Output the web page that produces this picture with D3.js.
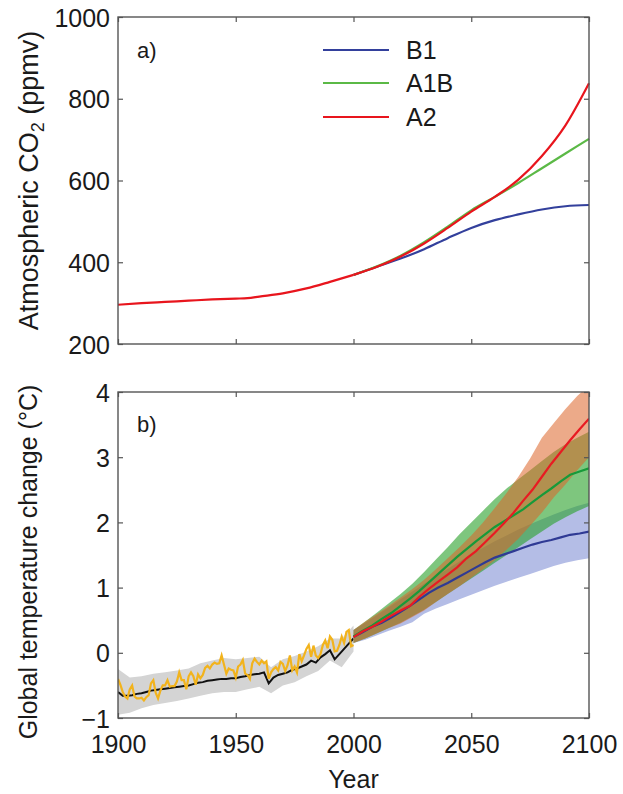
<!DOCTYPE html>
<html>
<head>
<meta charset="utf-8">
<script src="https://cdn.jsdelivr.net/npm/d3@7"></script>
<style>
body { margin: 0; background: #fff; }
svg { font-family: "Liberation Sans", Arial, Helvetica, sans-serif; }
.tick-label { font-size: 25px; fill: #1a1a1a; }
.axis-title { font-size: 25px; fill: #1a1a1a; }
</style>
</head>
<body>
<svg id="chart" width="623" height="794"></svg>
<script>
// ---- panel a: atmospheric CO2 (ppmv) ----
var co2HistYears = [1900, 1910, 1920, 1930, 1940, 1950, 1955, 1960, 1970, 1980, 1990, 2000];
var co2Hist = [296, 300, 303, 306, 309, 311, 312, 316, 324, 336, 352, 369];
var scenYears = [2000, 2010, 2020, 2030, 2040, 2050, 2060, 2070, 2080, 2090, 2100];
var co2B1 = [369, 389, 409, 432, 459, 484, 503, 517, 529, 537, 540];
var co2A1B = [369, 390, 416, 449, 487, 527, 560, 594, 630, 666, 702];
var co2A2 = [369, 389, 414, 446, 484, 524, 560, 602, 660, 735, 838];

var scenNames = ["B1", "A1B", "A2"];

// ---- panel b: temperature change (°C) ----
// observations, annual 1900-2000
var obsTemp = [
  -0.40, -0.49, -0.60, -0.67, -0.70, -0.56, -0.50, -0.67, -0.70, -0.70,
  -0.69, -0.73, -0.68, -0.65, -0.47, -0.42, -0.61, -0.70, -0.58, -0.50,
  -0.50, -0.42, -0.52, -0.51, -0.51, -0.44, -0.30, -0.42, -0.42, -0.56,
  -0.36, -0.30, -0.36, -0.49, -0.33, -0.39, -0.34, -0.23, -0.20, -0.24,
  -0.18, -0.15, -0.17, -0.16, -0.04, -0.18, -0.32, -0.24, -0.26, -0.27,
  -0.38, -0.21, -0.18, -0.11, -0.32, -0.34, -0.40, -0.16, -0.09, -0.14,
  -0.18, -0.12, -0.16, -0.13, -0.40, -0.30, -0.25, -0.22, -0.27, -0.14,
  -0.17, -0.28, -0.19, -0.04, -0.27, -0.21, -0.30, -0.02, -0.13, -0.04,
   0.06,  0.12, -0.06,  0.11, -0.04, -0.08, -0.02,  0.12,  0.19,  0.07,
   0.25,  0.20,  0.02,  0.03,  0.12,  0.25,  0.15,  0.32,  0.35,  0.10,
   0.12
];
// model mean, every 2 years 1900-2000
var histMean = [
  -0.60, -0.66, -0.66, -0.65, -0.63, -0.62, -0.60, -0.58, -0.57, -0.56,
  -0.55, -0.54, -0.53, -0.52, -0.51, -0.50, -0.48, -0.46, -0.45, -0.43,
  -0.42, -0.41, -0.40, -0.40, -0.39, -0.39, -0.37, -0.36, -0.34, -0.33,
  -0.32, -0.30, -0.47, -0.38, -0.34, -0.32, -0.30, -0.26, -0.24, -0.21,
  -0.18, -0.12, -0.15, -0.07, -0.02,  0.04, -0.10, -0.02,  0.06,  0.14,
   0.22
];
// model spread, every 5 years 1900-2000
var histLo = [-0.95, -0.92, -0.85, -0.80, -0.77, -0.74, -0.70, -0.66, -0.62, -0.60, -0.60,
              -0.56, -0.52, -0.62, -0.50, -0.45, -0.36, -0.28, -0.12, -0.22, 0.02];
var histHi = [-0.25, -0.38, -0.36, -0.32, -0.30, -0.27, -0.24, -0.16, -0.12, -0.08, -0.10,
              -0.08, -0.06, -0.22, -0.10, -0.05, 0.02, 0.10, 0.22, 0.22, 0.42];

// projections, mean every 4 years 2000-2100
var projB1 = [0.24, 0.32, 0.40, 0.46, 0.54, 0.63, 0.72, 0.82, 0.92, 1.00, 1.07, 1.15, 1.23,
              1.31, 1.39, 1.46, 1.51, 1.56, 1.61, 1.66, 1.70, 1.73, 1.77, 1.81, 1.83, 1.86];
var projA1B = [0.25, 0.34, 0.42, 0.52, 0.61, 0.72, 0.83, 0.95, 1.08, 1.21, 1.34, 1.47, 1.59,
               1.71, 1.82, 1.93, 2.02, 2.11, 2.20, 2.31, 2.42, 2.52, 2.63, 2.73, 2.78, 2.83];
var projA2 = [0.24, 0.33, 0.40, 0.48, 0.57, 0.65, 0.72, 0.86, 0.98, 1.09, 1.20, 1.31, 1.45,
              1.56, 1.70, 1.84, 1.99, 2.15, 2.33, 2.50, 2.70, 2.90, 3.08, 3.26, 3.43, 3.59];
// projection spread, every 5 years 2000-2100
var bandB1Lo = [0.15, 0.20, 0.27, 0.34, 0.40, 0.47, 0.60, 0.68, 0.75, 0.82, 0.89,
                0.96, 1.03, 1.09, 1.15, 1.21, 1.27, 1.33, 1.38, 1.42, 1.45];
var bandB1Hi = [0.35, 0.46, 0.58, 0.70, 0.82, 0.94, 1.06, 1.17, 1.29, 1.40, 1.51,
                1.61, 1.71, 1.80, 1.89, 1.97, 2.05, 2.12, 2.19, 2.25, 2.30];
var bandA1BLo = [0.15, 0.22, 0.30, 0.38, 0.46, 0.56, 0.66, 0.78, 0.90, 1.02, 1.14,
                 1.26, 1.38, 1.50, 1.62, 1.74, 1.86, 1.98, 2.08, 2.17, 2.25];
var bandA1BHi = [0.35, 0.48, 0.62, 0.76, 0.90, 1.06, 1.24, 1.43, 1.62, 1.82, 2.00,
                 2.18, 2.36, 2.52, 2.66, 2.80, 2.94, 3.08, 3.20, 3.30, 3.39];
var bandA2Lo = [0.15, 0.22, 0.30, 0.38, 0.45, 0.55, 0.65, 0.78, 0.90, 1.02, 1.15,
                1.28, 1.42, 1.58, 1.75, 1.95, 2.15, 2.38, 2.58, 2.80, 3.00];
var bandA2Hi = [0.35, 0.48, 0.60, 0.72, 0.85, 0.98, 1.12, 1.28, 1.45, 1.62, 1.80,
                2.00, 2.22, 2.45, 2.70, 2.98, 3.30, 3.52, 3.74, 3.94, 4.10];

var xTicks = [1900, 1950, 2000, 2050, 2100];
var co2Ticks = [200, 400, 600, 800, 1000];
var tempTicks = [-1, 0, 1, 2, 3, 4];

// ---- layout ----
var left = 118, right = 589;
var aTop = 17, aBottom = 344;
var bTop = 392, bBottom = 718;

var svg = d3.select("#chart");

var x = d3.scaleLinear().domain([1900, 2100]).range([left, right]);
var yA = d3.scaleLinear().domain([200, 1000]).range([aBottom, aTop]);
var yB = d3.scaleLinear().domain([-1, 4]).range([bBottom, bTop]);

var lineCol = { B1: "#33409c", A1B: "#5bb946", A2: "#e8151d" };
var projCol = { B1: "#2f3a94", A1B: "#179a3a", A2: "#e81b22" };
var bandFill = { B1: "#b4bde6", A1B: "rgb(40,160,40)", A2: "rgb(220,100,40)" };
var bandOp = { B1: 1, A1B: 0.6, A2: 0.55 };

function zip(xs, ys) { return xs.map(function(v, i) { return [v, ys[i]]; }); }

function drawFrame(y, top, bottom, ticks, showX) {
    var g = svg.append("g");
    var axL = d3.axisLeft(y).tickValues(ticks).tickSize(-5).tickPadding(8).tickFormat(d3.format("d"));
    var gl = g.append("g").attr("transform", "translate(" + left + ",0)").call(axL);
    var axR = d3.axisRight(y).tickValues(ticks).tickSize(-5).tickFormat("");
    g.append("g").attr("transform", "translate(" + right + ",0)").call(axR);
    var axT = d3.axisTop(x).tickValues(xTicks).tickSize(-5).tickFormat("");
    g.append("g").attr("transform", "translate(0," + top + ")").call(axT);
    var axB = d3.axisBottom(x).tickValues(xTicks).tickSize(-5).tickPadding(17).tickFormat(showX ? d3.format("d") : "");
    var gb = g.append("g").attr("transform", "translate(0," + bottom + ")").call(axB);
    g.selectAll(".domain").remove();
    g.selectAll(".tick line").attr("stroke", "#555").attr("stroke-width", 1.2);
    g.selectAll(".tick text").attr("class", "tick-label").attr("font-size", null).attr("font-family", null);
    gl.selectAll(".tick text").attr("dy", "0.36em");
    gb.selectAll(".tick text").attr("dy", "0.71em");
    g.append("rect")
        .attr("x", left).attr("y", top)
        .attr("width", right - left).attr("height", bottom - top)
        .attr("fill", "none").attr("stroke", "#555").attr("stroke-width", 1.4);
}

// ---------- panel a ----------
var lineA = d3.line().x(function(d) { return x(d[0]); }).y(function(d) { return yA(d[1]); }).curve(d3.curveMonotoneX);
var gA = svg.append("g");
var co2Series = { B1: co2B1, A1B: co2A1B, A2: co2A2 };
scenNames.forEach(function(n) {
    gA.append("path")
        .datum(zip(scenYears, co2Series[n]))
        .attr("d", lineA)
        .attr("fill", "none")
        .attr("stroke", lineCol[n])
        .attr("stroke-width", 2.2);
});
gA.append("path")
    .datum(zip(co2HistYears, co2Hist))
    .attr("d", lineA)
    .attr("fill", "none")
    .attr("stroke", lineCol.A2)
    .attr("stroke-width", 2.2);

drawFrame(yA, aTop, aBottom, co2Ticks, false);

svg.append("text").attr("x", 137).attr("y", 58).attr("font-size", 22).attr("fill", "#1a1a1a").text("a)");

// legend
var legY = [50, 83, 117];
scenNames.forEach(function(n, i) {
    svg.append("line").attr("x1", 323).attr("x2", 389).attr("y1", legY[i]).attr("y2", legY[i])
        .attr("stroke", lineCol[n]).attr("stroke-width", 2.2);
    svg.append("text").attr("x", 406).attr("y", legY[i] + 9).attr("font-size", 25)
        .attr("fill", "#1a1a1a").text(n);
});

svg.append("text")
    .attr("class", "axis-title")
    .attr("font-size", 27)
    .style("font-size", "27px")
    .attr("transform", "translate(38," + ((aTop + aBottom) / 2) + ") rotate(-90)")
    .attr("text-anchor", "middle")
    .call(function(t) {
        t.append("tspan").text("Atmospheric CO");
        t.append("tspan").style("font-size", "18px").attr("dy", 6).text("2");
        t.append("tspan").attr("dy", -6).text(" (ppmv)");
    });

// ---------- panel b ----------
svg.append("clipPath").attr("id", "clipB").append("rect")
    .attr("x", left).attr("y", bTop).attr("width", right - left).attr("height", bBottom - bTop);
var gB = svg.append("g").attr("clip-path", "url(#clipB)");

var lineB = d3.line().x(function(d) { return x(d[0]); }).y(function(d) { return yB(d[1]); });
var areaB = d3.area().x(function(d) { return x(d[0]); }).y0(function(d) { return yB(d[1]); }).y1(function(d) { return yB(d[2]); });

var years5Hist = d3.range(1900, 2001, 5);
var years2Hist = d3.range(1900, 2001, 2);
var years1Hist = d3.range(1900, 2001, 1);
var years5Proj = d3.range(2000, 2101, 5);
var years4Proj = d3.range(2000, 2101, 4);

gB.append("path")
    .datum(years5Hist.map(function(yr, i) { return [yr, histLo[i], histHi[i]]; }))
    .attr("d", areaB).attr("fill", "#d4d4d4");
gB.append("path")
    .datum(zip(years2Hist, histMean))
    .attr("d", lineB).attr("fill", "none").attr("stroke", "#111").attr("stroke-width", 2);
gB.append("path")
    .datum(zip(years1Hist, obsTemp))
    .attr("d", lineB).attr("fill", "none").attr("stroke", "#f2b31c").attr("stroke-width", 2.2);

var bands = { B1: [bandB1Lo, bandB1Hi], A1B: [bandA1BLo, bandA1BHi], A2: [bandA2Lo, bandA2Hi] };
scenNames.forEach(function(n) {
    gB.append("path")
        .datum(years5Proj.map(function(yr, i) { return [yr, bands[n][0][i], bands[n][1][i]]; }))
        .attr("d", areaB)
        .attr("fill", bandFill[n])
        .attr("fill-opacity", bandOp[n]);
});
var proj = { B1: projB1, A1B: projA1B, A2: projA2 };
scenNames.forEach(function(n) {
    gB.append("path")
        .datum(zip(years4Proj, proj[n]))
        .attr("d", lineB)
        .attr("fill", "none")
        .attr("stroke", projCol[n])
        .attr("stroke-width", 2.2);
});

drawFrame(yB, bTop, bBottom, tempTicks, true);

svg.append("text").attr("x", 137).attr("y", 432).attr("font-size", 22).attr("fill", "#1a1a1a").text("b)");

svg.append("text")
    .attr("class", "axis-title")
    .attr("transform", "translate(37,562) rotate(-90)")
    .attr("text-anchor", "middle")
    .text("Global temperature change (°C)");

svg.append("text")
    .attr("class", "axis-title")
    .attr("x", (left + right) / 2)
    .attr("y", 788)
    .attr("text-anchor", "middle")
    .text("Year");
</script>
</body>
</html>
